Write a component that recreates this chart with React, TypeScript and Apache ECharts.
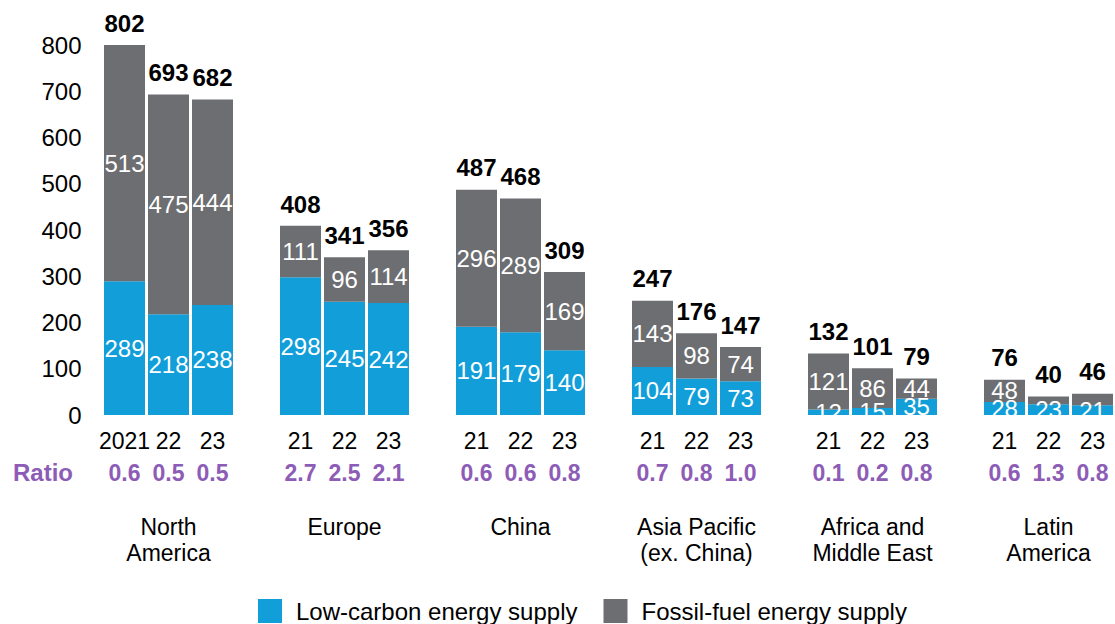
import React, { useEffect, useRef } from 'react';
import * as echarts from 'echarts';

// Regional energy supply, three years per region (2021, 2022, 2023)
const regions = [
  'North\nAmerica',
  'Europe',
  'China',
  'Asia Pacific\n(ex. China)',
  'Africa and\nMiddle East',
  'Latin\nAmerica',
];
const yearTicks = [
  '2021', '22', '23',
  '21', '22', '23',
  '21', '22', '23',
  '21', '22', '23',
  '21', '22', '23',
  '21', '22', '23',
];
const lowCarbon = [289, 218, 238, 298, 245, 242, 191, 179, 140, 104, 79, 73, 12, 15, 35, 28, 23, 21];
const fossilFuel = [513, 475, 444, 111, 96, 114, 296, 289, 169, 143, 98, 74, 121, 86, 44, 48, 17, 25];
const totals = [802, 693, 682, 408, 341, 356, 487, 468, 309, 247, 176, 147, 132, 101, 79, 76, 40, 46];
const ratios = ['0.6', '0.5', '0.5', '2.7', '2.5', '2.1', '0.6', '0.6', '0.8', '0.7', '0.8', '1.0', '0.1', '0.2', '0.8', '0.6', '1.3', '0.8'];
// fossil segments too thin to carry their own value label
const fossilLabelHidden = [false, false, false, false, false, false, false, false, false, false, false, false, false, false, false, false, true, true];
const yTicks = { min: 0, max: 800, interval: 100 };

const BLUE = '#119ed9';
const GREY = '#6d6e71';
const PURPLE = '#8d5cb6';
const FONT = '"Liberation Sans", Arial, sans-serif';

// Lay bars into slots: three bars per region, one empty slot between regions
type Slot = { id: string; bar: number; region: number; mid: boolean };
const slots: Slot[] = [];
regions.forEach((_, g) => {
  for (let k = 0; k < 3; k++) {
    const bar = g * 3 + k;
    slots.push({ id: 'b' + bar, bar, region: g, mid: k === 1 });
  }
  if (g < regions.length - 1) slots.push({ id: 'gap' + g, bar: -1, region: g, mid: false });
});

const slotIds = slots.map((s) => s.id);
const pick = (arr: number[]) => slots.map((s) => (s.bar < 0 ? '-' : arr[s.bar]));

const option: any = {
  animation: false,
  textStyle: { fontFamily: FONT },
  grid: { left: 102.5, right: 0.5, top: 45, bottom: 209 },
  legend: {
    data: ['Low-carbon energy supply', 'Fossil-fuel energy supply'],
    left: 253,
    top: 594,
    icon: 'rect',
    itemWidth: 24,
    itemHeight: 24,
    itemGap: 26,
    textStyle: {
      fontSize: 24,
      lineHeight: 24,
      color: '#000',
      fontFamily: FONT,
      padding: [0, 0, 0, 9],
    },
  },
  xAxis: [
    {
      type: 'category',
      data: slotIds,
      position: 'bottom',
      axisLine: { show: false },
      axisTick: { show: false },
      axisLabel: {
        interval: 0,
        margin: 10,
        formatter: (v: string) => {
          const s = slots.find((x) => x.id === v)!;
          if (s.bar < 0) return '';
          return `{y|${yearTicks[s.bar]}}\n{r|${ratios[s.bar]}}`;
        },
        rich: {
          y: { fontSize: 23, color: '#000', lineHeight: 32, fontFamily: FONT },
          r: { fontSize: 23, color: PURPLE, fontWeight: 'bold', lineHeight: 32, fontFamily: FONT },
        },
      },
    },
    {
      type: 'category',
      data: slotIds,
      position: 'bottom',
      axisLine: { show: false },
      axisTick: { show: false },
      axisLabel: {
        interval: 0,
        margin: 99,
        fontSize: 23,
        lineHeight: 26,
        color: '#000',
        fontFamily: FONT,
        formatter: (v: string) => {
          const s = slots.find((x) => x.id === v)!;
          return s.mid ? regions[s.region] : '';
        },
      },
    },
  ],
  yAxis: {
    type: 'value',
    ...yTicks,
    splitLine: { show: false },
    axisLine: { show: false },
    axisTick: { show: false },
    axisLabel: { fontSize: 24, color: '#000', margin: 21, fontFamily: FONT },
  },
  graphic: [
    {
      type: 'text',
      left: 13,
      top: 460,
      style: { text: 'Ratio', fill: PURPLE, font: `bold 24px ${FONT}` },
    },
    {
      // trims value labels that spill below the baseline
      type: 'rect',
      z: 100,
      shape: { x: 100, y: 415.5, width: 1015, height: 9 },
      style: { fill: '#fff' },
    },
  ],
  series: [
    {
      name: 'Low-carbon energy supply',
      type: 'bar',
      stack: 'supply',
      barWidth: 41,
      barGap: '-100%',
      data: pick(lowCarbon),
      itemStyle: { color: BLUE },
      label: { show: true, position: 'inside', color: '#fff', fontSize: 24, fontFamily: FONT },
    },
    {
      name: 'Fossil-fuel energy supply',
      type: 'bar',
      stack: 'supply',
      barWidth: 41,
      barGap: '-100%',
      data: slots.map((s) =>
        s.bar < 0
          ? '-'
          : { value: fossilFuel[s.bar], label: { show: !fossilLabelHidden[s.bar] } }
      ),
      itemStyle: { color: GREY },
      label: { show: true, position: 'inside', color: '#fff', fontSize: 24, fontFamily: FONT },
    },
    {
      name: 'Total',
      type: 'bar',
      barWidth: 41,
      barGap: '-100%',
      data: pick(totals),
      itemStyle: { color: 'rgba(0,0,0,0)' },
      z: 1,
      label: {
        show: true,
        position: 'top',
        distance: 10,
        color: '#000',
        fontSize: 24,
        fontWeight: 'bold',
        fontFamily: FONT,
      },
    },
  ],
};

export default function App() {
  const ref = useRef<HTMLDivElement>(null);
  useEffect(() => {
    const chart = echarts.init(ref.current!, null, { renderer: 'svg' });
    chart.setOption(option);
    return () => chart.dispose();
  }, []);
  return (
    <div
      ref={ref}
      style={{ position: 'fixed', left: 0, top: 0, width: 1115, height: 624, background: '#fff' }}
    />
  );
}
